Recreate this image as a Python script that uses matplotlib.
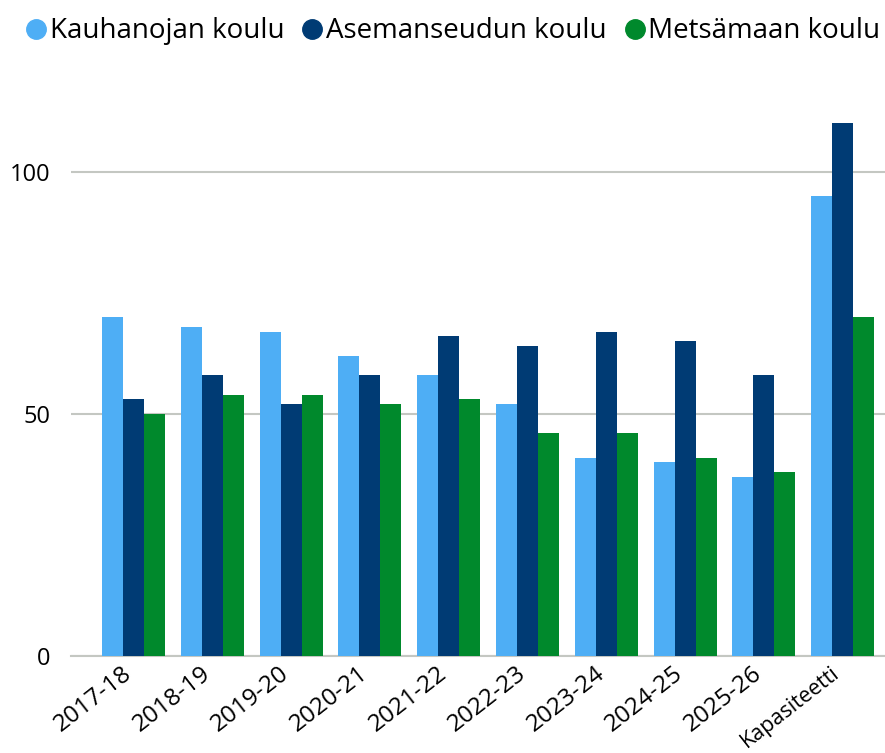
import numpy as np
import matplotlib.pyplot as plt
import matplotlib.transforms as mtransforms
from matplotlib.lines import Line2D

# data
years = ['2017-18', '2018-19', '2019-20', '2020-21', '2021-22',
         '2022-23', '2023-24', '2024-25', '2025-26', 'Kapasiteetti']
kauhanoja = [70, 68, 67, 62, 58, 52, 41, 40, 37, 95]
asema = [53, 58, 52, 58, 66, 64, 67, 65, 58, 110]
metsamaa = [50, 54, 54, 52, 53, 46, 46, 41, 38, 70]

names = ['Kauhanojan koulu', 'Asemanseudun koulu', 'Metsämaan koulu']
colors = ['#4EAEF5', '#003B74', '#00892C']

plt.rcParams['font.family'] = ['Open Sans', 'DejaVu Sans']

fig = plt.figure(figsize=(8.85, 7.53), dpi=100)
ax = fig.add_axes([0.0802, 0.1288, 0.9198, 0.7716])

x = np.arange(len(years))
w = 0.2665
for i, vals in enumerate([kauhanoja, asema, metsamaa]):
    ax.bar(x + (i - 1) * w, vals, width=w, color=colors[i], zorder=3)

ax.set_xlim(-0.793, 9.537)
ax.set_ylim(0, 120)
ax.set_yticks([0, 50, 100])
ax.yaxis.grid(True, color='#C4C7C2', linewidth=1.5, zorder=0)
for s in ['top', 'right', 'left']:
    ax.spines[s].set_visible(False)
ax.spines['bottom'].set_color('#C4C7C2')
ax.spines['bottom'].set_linewidth(1.5)
ax.tick_params(axis='both', length=0, colors='black')
ax.tick_params(axis='y', pad=15, labelsize=17)
ax.set_xticks(x)
ax.set_xticklabels(years, rotation=38, ha='right', va='top',
                   rotation_mode='anchor', fontsize=17.5)
# shift x labels a bit left, like the original
shift = mtransforms.ScaledTranslation(-12 / 100, -1 / 100, fig.dpi_scale_trans)
for lab in ax.get_xticklabels():
    lab.set_transform(lab.get_transform() + shift)
# the long word has to stay inside the picture
ax.get_xticklabels()[-1].set_fontsize(15.5)

# legend with round markers
handles = [Line2D([0], [0], marker='o', linestyle='', markersize=14,
                  markerfacecolor=c, markeredgecolor=c) for c in colors]
fig.legend(handles, names, loc='upper center', bbox_to_anchor=(0.51, 1.01),
           ncol=3, frameon=False, fontsize=20, handletextpad=0.0,
           columnspacing=0.5, handlelength=1.0)

plt.savefig('out.png', dpi=100)
